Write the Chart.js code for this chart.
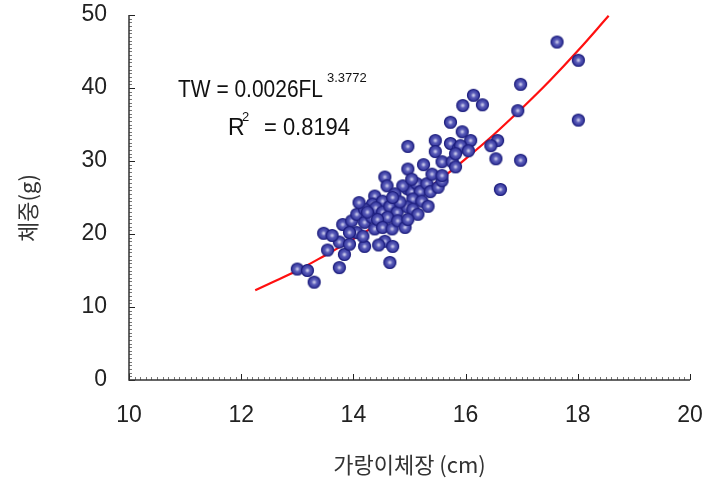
<!DOCTYPE html>
<html>
<head>
<meta charset="utf-8">
<script src="https://cdn.jsdelivr.net/npm/chart.js@4"></script>
<style>
  html, body { margin: 0; padding: 0; background: #fff; }
  #wrap { width: 702px; height: 478px; }
</style>
</head>
<body>
<div id="wrap"><canvas id="c" width="702" height="478"></canvas></div>
<script>
// ---- data ----
const lengthCm = [
  13.00, 13.18, 13.30, 13.47, 13.54, 13.75, 13.84, 13.75, 13.93, 14.20,
  13.81, 13.97, 14.06, 14.20, 14.33, 14.38, 14.06, 14.17, 13.93, 14.38,
  14.34, 14.20, 14.52, 14.40, 14.52, 14.65, 14.78, 14.61, 14.43, 14.52,
  14.69, 14.79, 14.92, 14.56, 14.70, 14.45, 14.65, 14.96, 15.04, 15.13,
  15.19, 15.31, 15.37, 15.51, 15.58, 15.06, 15.22, 15.33, 14.96, 15.06,
  14.56, 14.60, 14.88, 14.97, 15.04, 15.40, 15.58, 14.97, 15.46, 15.73,
  15.87, 15.46, 15.58, 15.76, 15.82, 15.73, 15.94, 15.95, 16.09, 15.91,
  15.82, 16.05, 16.57, 16.45, 16.54, 16.98, 16.62, 16.93, 16.98, 16.14,
  16.30, 17.63, 18.01, 18.01, 14.74, 14.83, 15.15, 14.97, 14.25, 13.62,
  14.10, 15.25, 14.70
];
const weightG = [
  15.2, 15.0, 13.4, 20.1, 17.8, 15.4, 17.2, 18.9, 18.6, 18.3,
  21.3, 21.8, 22.7, 21.6, 22.3, 20.7, 20.2, 19.7, 20.2, 25.2,
  24.1, 23.4, 24.5, 23.6, 23.0, 23.8, 23.0, 22.3, 22.0, 20.9,
  20.7, 21.8, 20.9, 19.0, 18.3, 18.5, 16.1, 26.2, 25.8, 26.9,
  25.8, 26.9, 25.8, 26.4, 27.3, 24.8, 24.5, 23.8, 23.7, 23.4,
  27.8, 26.6, 26.6, 28.9, 27.5, 28.2, 28.0, 32.0, 32.8, 32.4,
  31.7, 31.3, 29.9, 29.9, 29.2, 35.3, 34.0, 37.6, 32.8, 32.1,
  31.0, 31.4, 32.8, 32.1, 30.3, 30.1, 26.1, 36.9, 40.5, 39.0,
  37.7, 46.3, 43.8, 35.6, 25.5, 24.4, 22.7, 22.0, 23.0, 19.8,
  24.3, 29.5, 25.0
];
// fitted curve
const fitX = [12.25, 12.5, 13, 13.5, 14, 14.5, 15, 15.5, 16, 16.5, 17, 17.5, 18, 18.55];
const fitY = [12.3, 13.2, 15.0, 17.1, 19.3, 21.7, 24.4, 27.2, 30.3, 33.6, 37.2, 41.0, 45.1, 49.9];
const xTicks = [10, 12, 14, 16, 18, 20];
const yTicks = [0, 10, 20, 30, 40, 50];
const xTitle = '가랑이체장 (cm)';
const yTitle = '체중(g)';
const eqMain = 'TW = 0.0026FL';
const eqExp = '3.3772';
const r2Val = '= 0.8194';

// ---- marker image ----
function makeMarker() {
  const s = 15, c = document.createElement('canvas');
  c.width = s; c.height = s;
  const g = c.getContext('2d');
  const grad = g.createRadialGradient(7.5, 7.5, 0.5, 7.5, 7.5, 6.5);
  grad.addColorStop(0, '#c8c8ea');
  grad.addColorStop(0.35, '#5a5cb8');
  grad.addColorStop(1, '#2a2c96');
  g.beginPath(); g.arc(7.5, 7.5, 6, 0, Math.PI * 2);
  g.fillStyle = grad; g.fill();
  g.lineWidth = 1.2; g.strokeStyle = '#1e1f7e'; g.stroke();
  return c;
}
const marker = makeMarker();

const scatterPts = lengthCm.map((x, i) => ({ x: x, y: weightG[i] }));
const fitPts = fitX.map((x, i) => ({ x: x, y: fitY[i] }));

const axisDeco = {
  id: 'axisDeco',
  afterDraw(chart) {
    const ctx = chart.ctx, xs = chart.scales.x, ys = chart.scales.y;
    const L = xs.left, B = ys.bottom;
    ctx.save();
    // minor ticks
    ctx.strokeStyle = '#777'; ctx.lineWidth = 1;
    ctx.beginPath();
    for (let v = 0; v <= 50.001; v += 0.5) {
      const p = Math.round(ys.getPixelForValue(v)) + 0.5;
      ctx.moveTo(L, p); ctx.lineTo(L + 3, p);
    }
    for (let v = 10; v <= 20.001; v += 0.1) {
      const p = Math.round(xs.getPixelForValue(v)) + 0.5;
      ctx.moveTo(p, B); ctx.lineTo(p, B - 3);
    }
    ctx.stroke();
    // major ticks
    ctx.strokeStyle = '#222'; ctx.lineWidth = 1;
    ctx.beginPath();
    yTicks.forEach(v => { const p = Math.round(ys.getPixelForValue(v)) + 0.5; ctx.moveTo(L, p); ctx.lineTo(L + 6, p); });
    xTicks.forEach(v => { const p = Math.round(xs.getPixelForValue(v)) + 0.5; ctx.moveTo(p, B); ctx.lineTo(p, B - 6); });
    ctx.stroke();
    // axis lines
    ctx.strokeStyle = '#333'; ctx.lineWidth = 1.5;
    ctx.beginPath();
    ctx.moveTo(L, ys.top); ctx.lineTo(L, B); ctx.lineTo(xs.right, B);
    ctx.stroke();
    // y title
    ctx.fillStyle = '#333';
    ctx.font = '22px "Noto Sans CJK KR"';
    ctx.textAlign = 'center'; ctx.textBaseline = 'middle';
    ctx.translate(28, 208); ctx.rotate(-Math.PI / 2);
    ctx.fillText(yTitle, 0, 0);
    ctx.restore();
    // equation
    ctx.save();
    ctx.fillStyle = '#111';
    ctx.textAlign = 'left'; ctx.textBaseline = 'alphabetic';
    ctx.font = '23px "Liberation Sans", Arial, sans-serif';
    ctx.fillText(eqMain, 178, 97, 145);
    ctx.fillText('R', 228, 135);
    ctx.fillText(r2Val, 264, 135, 86);
    ctx.font = '13px "Liberation Sans", Arial, sans-serif';
    ctx.fillText(eqExp, 327, 82, 46);
    ctx.fillText('2', 242, 121);
    ctx.restore();
  }
};

new Chart(document.getElementById('c'), {
  type: 'scatter',
  data: {
    datasets: [
      {
        type: 'line', data: fitPts, borderColor: '#ff1010', borderWidth: 2.2,
        pointRadius: 0, tension: 0.4, fill: false, order: 1
      },
      {
        data: scatterPts, pointStyle: marker, pointRadius: 7, order: 0
      }
    ]
  },
  options: {
    responsive: false, animation: false, devicePixelRatio: 1,
    layout: { padding: { top: 15, right: 12, left: 0, bottom: 0 } },
    plugins: { legend: { display: false }, tooltip: { enabled: false } },
    scales: {
      x: {
        type: 'linear', min: 10, max: 20,
        grid: { display: false, drawTicks: false },
        border: { display: false },
        afterBuildTicks: s => { s.ticks = xTicks.map(v => ({ value: v })); },
        afterFit: s => { s.height = 98; s.paddingLeft = 0; s.paddingRight = 0; },
        ticks: { color: '#222', padding: 22, font: { family: '"Liberation Sans", Arial, sans-serif', size: 23 } },
        title: { display: true, text: xTitle, color: '#333', padding: { top: 0, bottom: 0 },
                 font: { family: '"Noto Sans CJK KR"', size: 22 } }
      },
      y: {
        type: 'linear', min: 0, max: 50,
        grid: { display: false, drawTicks: false },
        border: { display: false },
        afterBuildTicks: s => { s.ticks = yTicks.map(v => ({ value: v })); },
        afterFit: s => { s.width = 129; s.paddingTop = 0; s.paddingBottom = 0; },
        ticks: { color: '#222', padding: 22, font: { family: '"Liberation Sans", Arial, sans-serif', size: 23 } }
      }
    }
  },
  plugins: [axisDeco]
});
</script>
</body>
</html>
